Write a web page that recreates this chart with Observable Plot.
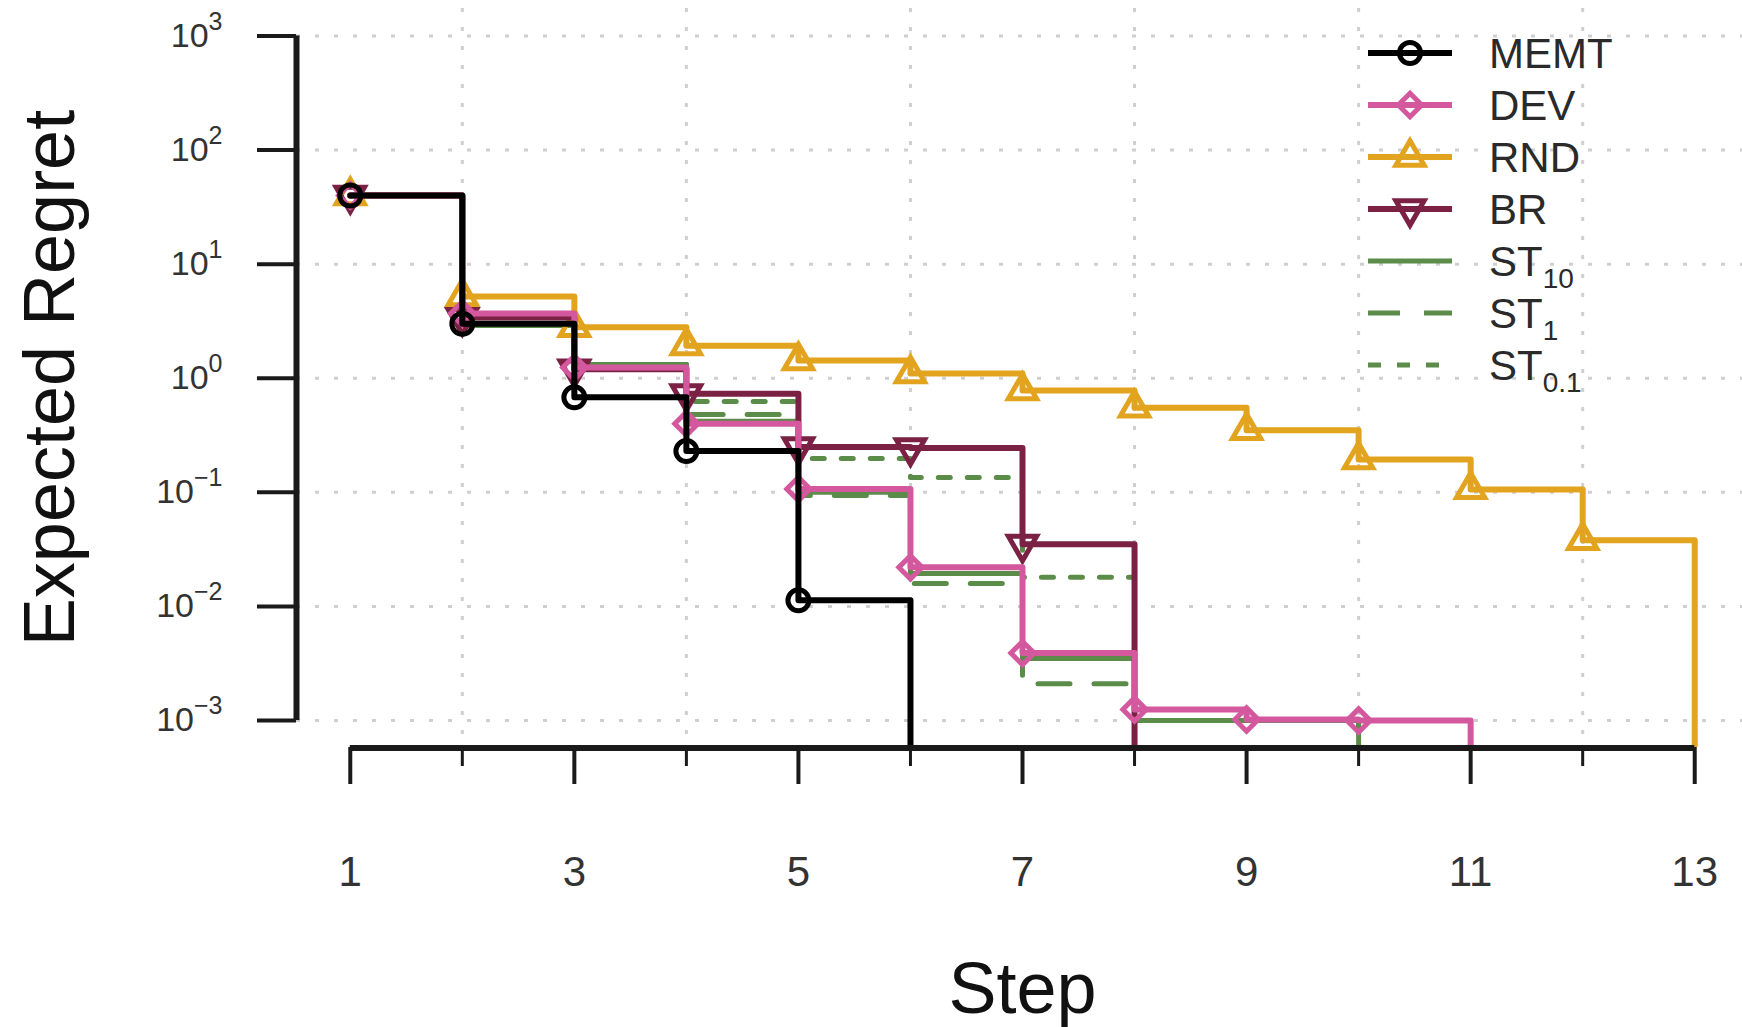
<!DOCTYPE html>
<html><head><meta charset="utf-8">
<script src="https://cdn.jsdelivr.net/npm/d3@7"></script>
<script src="https://cdn.jsdelivr.net/npm/@observablehq/plot@0.6"></script>
<style>
html,body{margin:0;padding:0;background:#fff;overflow:hidden}
#wrap{position:relative;width:1742px;height:1027px}
</style></head><body><div id="wrap"></div>
<script>
// ---- data ----
const steps = [1,2,3,4,5,6,7,8,9,10,11,12,13];
const memt = [40, 3.0, 0.68, 0.23, 0.0113, 0];
const dev  = [40, 3.7, 1.24, 0.40, 0.107, 0.022, 0.0039, 0.00125, 0.00102, 0.00100, 0];
const rnd  = [40, 5.2, 2.8, 1.93, 1.43, 1.10, 0.78, 0.55, 0.35, 0.194, 0.106, 0.038, 0];
const br   = [40, 3.4, 1.2, 0.73, 0.25, 0.245, 0.035, 0];
const st10 = [40, 2.9, 1.32, 0.42, 0.10, 0.0194, 0.0035, 0.001, 0.001, 0];
const st1  = [40, 2.9, 1.32, 0.48, 0.094, 0.0159, 0.0021, 0.001, 0.001, 0];
const st01 = [40, 2.9, 1.32, 0.625, 0.198, 0.135, 0.018, 0];
const xTicksMajor = [1,3,5,7,9,11,13];
const xTicksMinor = [2,4,6,8,10,12];
const yExponents = [-3,-2,-1,0,1,2,3];
const legendMain = ["MEMT","DEV","RND","BR","ST","ST","ST"];
const legendSub  = ["","","","","10","1","0.1"];

// ---- styles ----
const colors = ["#000000","#D4589E","#E2A31E","#7B2244","#5B8C4A","#5B8C4A","#5B8C4A"];
const widths = [6,6,6,6,5,5,5];
const dashes = [undefined,undefined,undefined,undefined,undefined,"32 24","12 17"];
const sqrt3 = Math.sqrt(3);
const triangleDown = {draw(ctx, size){ const y = -Math.sqrt(size/(sqrt3*3)); ctx.moveTo(0,-y*2); ctx.lineTo(-sqrt3*y, y); ctx.lineTo(sqrt3*y, y); ctx.closePath(); }};
const symbols = [d3.symbolCircle, d3.symbolDiamond2, d3.symbolTriangle, triangleDown, null, null, null];
const seriesValues = [memt, dev, rnd, br, st10, st1, st01];
const drawOrder = [6,5,4,2,3,1,0];
const FLOOR = 1e-6; // zero regret sits below the log axis

const W = 1742, H = 1027;
const xDomain = [0.52, 13.48];
const yDomain = [10**-3.24, 10**3.24];
const yTicks = yExponents.map(e => 10**e);
const font = "'Liberation Sans', Arial, Helvetica, sans-serif";
const gridStyle = {stroke: "#cfcfcf", strokeWidth: 3, strokeDasharray: "4 15"};
const markerR = 10.5, markerW = 5;

const marks = [
  Plot.ruleY(yTicks, gridStyle),
  Plot.ruleX(xTicksMinor, gridStyle),
];
for (const i of drawOrder) {
  const pts = seriesValues[i].map((v, k) => ({step: steps[k], value: v}));
  marks.push(Plot.line(pts, {x: "step", y: d => d.value > 0 ? d.value : FLOOR, curve: "step-after",
    stroke: colors[i], strokeWidth: widths[i], strokeDasharray: dashes[i], clip: true}));
  if (symbols[i]) marks.push(Plot.dot(pts.filter(d => d.value > 0), {x: "step", y: "value",
    symbol: symbols[i], r: markerR, stroke: colors[i], strokeWidth: markerW, fill: "none"}));
}
marks.push(
  Plot.ruleX([xDomain[0]], {y1: d3.min(yTicks), y2: d3.max(yTicks), stroke: "#1a1a1a", strokeWidth: 6}),
  Plot.ruleY([yDomain[0]], {x1: d3.min(xTicksMajor), x2: d3.max(xTicksMajor), stroke: "#1a1a1a", strokeWidth: 6}),
  Plot.axisY(yTicks, {tickSize: 39, strokeWidth: 4, stroke: "#1a1a1a", tickFormat: () => "", label: null}),
  Plot.axisX(xTicksMajor, {tickSize: 37, strokeWidth: 4, stroke: "#1a1a1a", tickFormat: () => "", label: null}),
  Plot.axisX(xTicksMinor, {tickSize: 19, strokeWidth: 3, stroke: "#1a1a1a", tickFormat: () => "", label: null}),
  Plot.text(yExponents, {x: xDomain[0], y: e => 10**e, text: e => "10^" + e, textAnchor: "end", dx: -74,
    fontSize: 34, fill: "#333"}),
  Plot.text(xTicksMajor, {x: d => d, y: yDomain[0], text: d => String(d), dy: 125, fontSize: 42, fill: "#333"}),
  Plot.text(["Expected Regret"], {frameAnchor: "left", textAnchor: "middle", dx: -246, rotate: -90, fontSize: 72, fill: "#111"}),
  Plot.text(["Step"], {x: d3.mean(xTicksMajor), y: yDomain[0], dy: 242, fontSize: 72, fill: "#111"})
);

const svg = Plot.plot({
  width: W, height: H,
  marginLeft: 296, marginRight: 0, marginTop: 8, marginBottom: H - 747,
  x: {domain: xDomain, range: [296, 1748]},
  y: {type: "log", domain: yDomain, range: [747.4, 8.1]},
  style: {fontFamily: font, background: "#fff"},
  marks
});

// superscript exponents on y tick labels
d3.select(svg).selectAll("text").each(function() {
  const t = d3.select(this);
  const s = t.text();
  if (s.startsWith("10^")) {
    const e = s.slice(3).replace("-", "\u2212");
    t.text(null);
    t.append("tspan").text("10");
    t.append("tspan").attr("dy", -17).attr("font-size", 25).text(e);
  }
});

// legend (inside plot, top-right)
const lg = d3.select(svg).append("g").attr("font-family", font).attr("text-anchor", "start");
const rowY = i => 53 + 52 * i;
legendMain.forEach((name, i) => {
  const y = rowY(i);
  const g = lg.append("g");
  g.append("line").attr("x1", 1368).attr("x2", 1452).attr("y1", y).attr("y2", y)
    .attr("stroke", colors[i]).attr("stroke-width", widths[i])
    .attr("stroke-dasharray", i === 5 ? "32 24" : i === 6 ? "13 16" : null);
  if (symbols[i]) g.append("path").attr("transform", `translate(1410,${y})`)
    .attr("d", d3.symbol(symbols[i], Math.PI * markerR * markerR)())
    .attr("fill", "none").attr("stroke", colors[i]).attr("stroke-width", markerW);
  const t = g.append("text").attr("x", 1489).attr("y", y).attr("dy", "0.36em")
    .attr("font-size", 42).attr("fill", "#2a2a2a");
  t.append("tspan").text(name);
  if (legendSub[i]) t.append("tspan").attr("dy", 12).attr("font-size", 28).text(legendSub[i]);
});

document.getElementById("wrap").appendChild(svg);
</script></body></html>
